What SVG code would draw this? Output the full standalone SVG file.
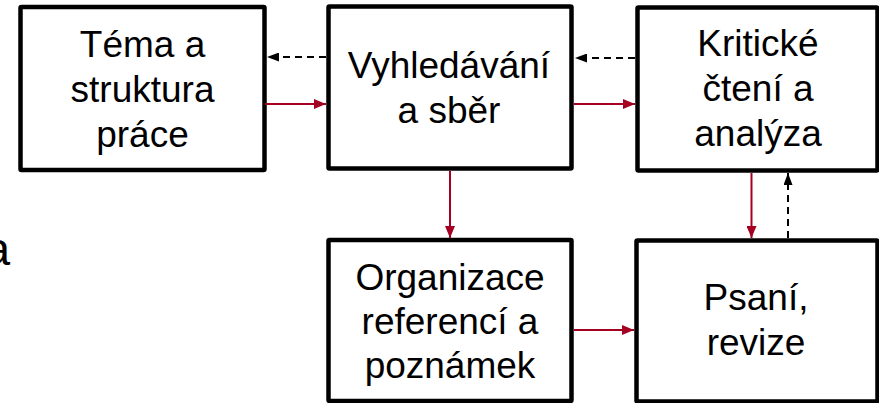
<svg xmlns="http://www.w3.org/2000/svg" width="879" height="403" viewBox="0 0 879 403">
<style>
.box{fill:#fff;stroke:#000;stroke-width:4.5;stroke-linejoin:round}
.t{font-family:"Liberation Sans",Arial,sans-serif;font-size:37px;fill:#000;text-anchor:middle}
.red{stroke:#A50021;stroke-width:2;fill:none}
.dash{stroke:#000;stroke-width:2;fill:none;stroke-dasharray:7,5}
</style>
<defs>
<marker id="ar" markerUnits="userSpaceOnUse" markerWidth="12" markerHeight="10" refX="12" refY="5" orient="auto"><path d="M0,0 L12,5 L0,10 Z" fill="#A50021"/></marker>
<marker id="ak" markerUnits="userSpaceOnUse" markerWidth="12" markerHeight="9" refX="12" refY="4.5" orient="auto"><path d="M0,0 L12,4.5 L0,9 Z" fill="#000"/></marker>
</defs>
<text x="10" y="265" font-family="Liberation Sans, Arial, sans-serif" font-size="46" text-anchor="end" fill="#000">a</text>
<g id="n1"><rect class="box" x="20.5" y="7" width="244" height="163" rx="1"/><text class="t" x="142.5" y="57">Téma a</text><text class="t" x="142.5" y="102">struktura</text><text class="t" x="142.5" y="147">práce</text></g>
<g id="n2"><rect class="box" x="328.5" y="6.5" width="243" height="162" rx="1"/><text class="t" x="449" y="78">Vyhledávání</text><text class="t" x="449" y="123">a sběr</text></g>
<g id="n3"><rect class="box" x="637.5" y="7.5" width="240" height="163" rx="1"/><text class="t" x="758" y="56">Kritické</text><text class="t" x="758" y="101">čtení a</text><text class="t" x="758" y="146">analýza</text></g>
<g id="n4"><rect class="box" x="328.5" y="240" width="243" height="161" rx="1"/><text class="t" x="450" y="290">Organizace</text><text class="t" x="450" y="334">referencí a</text><text class="t" x="450" y="378">poznámek</text></g>
<g id="n5"><rect class="box" x="636.5" y="240.5" width="241" height="161" rx="1"/><text class="t" x="756" y="310">Psaní,</text><text class="t" x="756" y="355">revize</text></g>
<g id="connectors">
<line class="red" x1="265" y1="104" x2="326" y2="104" marker-end="url(#ar)"/>
<line class="dash" x1="326" y1="57" x2="267" y2="57" marker-end="url(#ak)"/>
<line class="red" x1="574" y1="104" x2="635" y2="104" marker-end="url(#ar)"/>
<line class="dash" x1="635" y1="58" x2="575" y2="58" marker-end="url(#ak)"/>
<line class="red" x1="450" y1="171" x2="450" y2="238" marker-end="url(#ar)"/>
<line class="red" x1="751.5" y1="173" x2="751.5" y2="238" marker-end="url(#ar)"/>
<line class="dash" x1="788" y1="238" x2="788" y2="173" marker-end="url(#ak)"/>
<line class="red" x1="574" y1="330" x2="634" y2="330" marker-end="url(#ar)"/>
</g>
</svg>
